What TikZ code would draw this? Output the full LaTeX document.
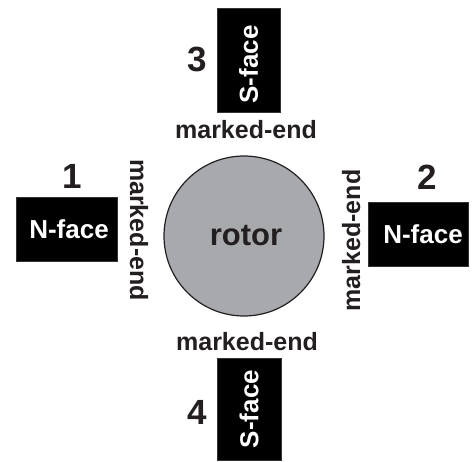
\documentclass[tikz,border=0pt]{standalone}
\usepackage{fontspec}
\setmainfont{Liberation Sans}
\definecolor{ink}{HTML}{231F20}
\definecolor{rotorgray}{HTML}{A7A9AC}
\tikzset{
  facebox/.style={fill=black, draw=black!80, line width=0.6pt, inner sep=0pt},
  facetext/.style={text=white, font=\bfseries\fontsize{26}{26}\selectfont, inner sep=0pt},
  endlabel/.style={text=ink, font=\bfseries\fontsize{25}{25}\selectfont, inner sep=0pt},
  polenum/.style={text=ink, font=\bfseries\fontsize{35}{35}\selectfont, inner sep=0pt},
}
\begin{document}
\begin{tikzpicture}[x=1pt, y=-1pt]
  \useasboundingbox (0,0) rectangle (474,461);

  % rotor
  \node[circle, fill=rotorgray, draw=ink, line width=1.2pt, minimum size=160pt, inner sep=0pt]
    (rotor) at (244,236) {};
  \node[text=ink, font=\bfseries\fontsize{31}{31}\selectfont, inner sep=0pt] (rotorlbl)
    at (246,236) {rotor};

  % pole 1 (left)
  \node[facebox, minimum width=101pt, minimum height=64pt] (b1) at (66.5,229) {};
  \node[facetext] (t1) at ([xshift=2.5pt]b1.center) {N-face};
  \node[polenum] (n1) at (72.5,176) {1};
  \node[endlabel, rotate=-90, anchor=base] (m1) at (130,230) {marked-end};

  % pole 2 (right)
  \node[facebox, minimum width=100pt, minimum height=64pt] (b2) at (418,234) {};
  \node[facetext] (t2) at ([xshift=5pt]b2.center) {N-face};
  \node[polenum] (n2) at (427.5,177) {2};
  \node[endlabel, rotate=90, anchor=base] (m2) at (360,240.5) {marked-end};

  % pole 3 (top)
  \node[facebox, minimum width=63pt, minimum height=104pt] (b3) at (248.5,60) {};
  \node[facetext, rotate=90] (t3) at ([yshift=-4.5pt]b3.center) {S-face};
  \node[polenum] (n3) at (197,59) {3};
  \node[endlabel, anchor=base] (m3) at (246,138) {marked-end};

  % pole 4 (bottom)
  \node[facebox, minimum width=64pt, minimum height=102pt] (b4) at (249,409) {};
  \node[facetext, rotate=90] (t4) at (b4.center) {S-face};
  \node[polenum] (n4) at (197,412.5) {4};
  \node[endlabel, anchor=base] (m4) at (247,350) {marked-end};
\end{tikzpicture}
\end{document}
